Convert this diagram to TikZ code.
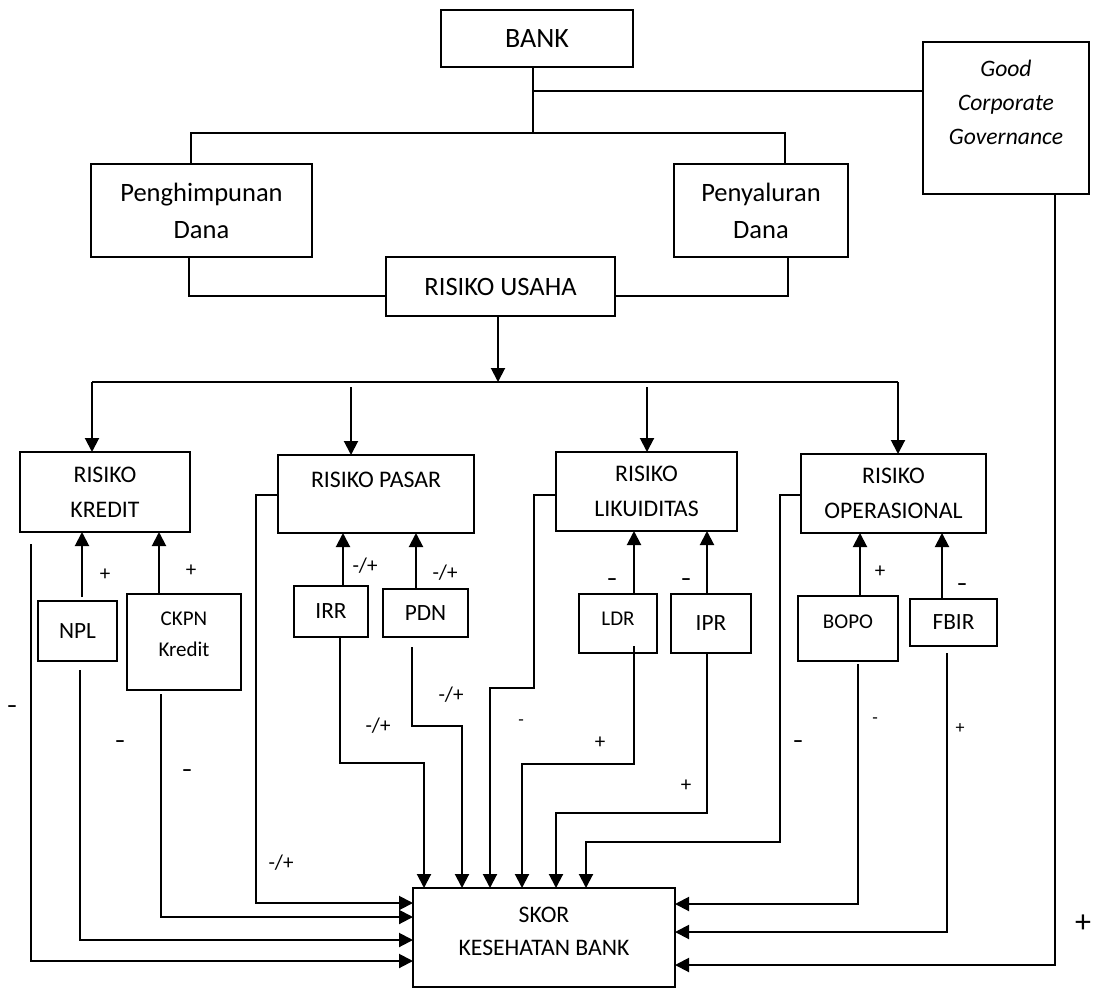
\documentclass[tikz,border=0pt]{standalone}
\usepackage{fontspec}
\setmainfont{Carlito}
\usetikzlibrary{arrows.meta,calc}
\newcommand{\fsBank}{\fontsize{28}{34}\selectfont}
\newcommand{\fsMain}{\fontsize{26.5}{37}\selectfont}
\newcommand{\fsGcg}{\fontsize{23.6}{34}\selectfont}
\newcommand{\fsRisk}{\fontsize{23.8}{35}\selectfont}
\newcommand{\fsSub}{\fontsize{23.3}{28}\selectfont}
\newcommand{\fsSmall}{\fontsize{21}{31}\selectfont}
\newcommand{\fsSkor}{\fontsize{23.7}{33}\selectfont}
\newcommand{\fsLab}{\fontsize{21}{25}\selectfont}
\newcommand{\fsHy}{\fontsize{18}{22}\selectfont}
\newcommand{\fsBig}{\fontsize{32}{38}\selectfont}
\begin{document}
\begin{tikzpicture}[x=1pt,y=-1pt,
  box/.style={draw, line width=1.3pt, inner sep=0pt, outer sep=0pt, align=center},
  tree/.style={line width=1.3pt},
  conn/.style={line width=2pt, -{Triangle[length=14pt,width=14pt]}},
  lab/.style={font=\fsLab, inner sep=0pt},
  dashlab/.style={font=\fsLab\bfseries, inner sep=0pt},
  hylab/.style={font=\fsHy, inner sep=0pt}]
\useasboundingbox (0,0) rectangle (1095,988);
% boxes
\node[box, minimum width=192pt, minimum height=57pt, font=\fsBank] (bank) at (537,38.5) {BANK};
\node[box, minimum width=166pt, minimum height=152pt] (gcg) at (1006,118) {};
\node[font=\fsGcg\itshape, align=center] (gcgtext) at (1006,102) {Good\\Corporate\\Governance};
\node[box, minimum width=221pt, minimum height=93pt, font=\fsMain] (peng) at (201.5,210.5) {Penghimpunan\\Dana};
\node[box, minimum width=174pt, minimum height=93pt, font=\fsMain] (peny) at (761,210.5) {Penyaluran\\Dana};
\node[box, minimum width=229pt, minimum height=59pt, font=\fsMain] (usaha) at (500.5,286.5) {RISIKO USAHA};
\node[box, minimum width=170pt, minimum height=80pt, font=\fsRisk] (kredit) at (105,492) {RISIKO\\KREDIT};
\node[box, minimum width=196pt, minimum height=78pt] (pasar) at (376,494) {};
\node[font=\fsRisk] (pasartext) at (376,480) {RISIKO PASAR};
\node[box, minimum width=181pt, minimum height=79pt, font=\fsRisk] (likuid) at (646.5,491.5) {RISIKO\\LIKUIDITAS};
\node[box, minimum width=185pt, minimum height=79pt, font=\fsRisk] (oper) at (893.5,493.5) {RISIKO\\OPERASIONAL};
\node[box, line width=2.3pt, minimum width=79pt, minimum height=60pt, font=\fsSub] (npl) at (77.5,631) {NPL};
\node[box, minimum width=114pt, minimum height=96pt] (ckpn) at (184,642) {};
\node[font=\fsSmall, align=center] (ckpntext) at (184,634) {CKPN\\Kredit};
\node[box, minimum width=74pt, minimum height=51pt, font=\fsSub] (irr) at (331,611.5) {IRR};
\node[box, minimum width=85pt, minimum height=48pt, font=\fsSub] (pdn) at (425.5,613) {PDN};
\node[box, minimum width=78pt, minimum height=59pt] (ldr) at (618,623.5) {};
\node[font=\fsSmall] (ldrtext) at (618,619) {LDR};
\node[box, minimum width=80pt, minimum height=59pt, font=\fsSub] (ipr) at (711,623.5) {IPR};
\node[box, minimum width=100pt, minimum height=65pt] (bopo) at (848,628.5) {};
\node[font=\fsSmall] (bopotext) at (848,622) {BOPO};
\node[box, minimum width=87pt, minimum height=47pt, font=\fsSub] (fbir) at (953.5,622.5) {FBIR};
\node[box, minimum width=262pt, minimum height=99pt] (skor) at (544,937.5) {};
\node[font=\fsSkor, align=center] (skortext) at (544,931.5) {SKOR\\KESEHATAN BANK};
% tree
\draw[tree] ($(bank.south)+(-4,0)$) -- ($(bank.south)+(-4,66)$);
\draw[tree] ($(bank.south)+(-4,24)$) -- ($(gcg.west)+(0,-27)$);
\draw[tree] ($(peng.north)+(-10.5,0)$) |- ($(peny.north)+(24,-31)$) -- ($(peny.north)+(24,0)$);
\draw[tree] ($(peng.south)+(-12.5,0)$) |- ($(usaha.west)+(0,9.5)$);
\draw[tree] ($(peny.south)+(27,0)$) |- ($(usaha.east)+(0,9.5)$);
\draw[conn] ($(usaha.south)+(-2.5,0)$) -- ($(usaha.south)+(-2.5,66)$);
\draw[tree] ($(kredit.north)+(-13,-70)$) -- ($(oper.north)+(4.5,-72)$);
\draw[conn] ($(kredit.north)+(-13,-70)$) -- ($(kredit.north)+(-13,0)$);
\draw[conn] ($(pasar.north)+(-25,-68)$) -- ($(pasar.north)+(-25,0)$);
\draw[conn] ($(likuid.north)+(0.5,-65)$) -- ($(likuid.north)+(0.5,0)$);
\draw[conn] ($(oper.north)+(4.5,-72)$) -- ($(oper.north)+(4.5,0)$);
% up arrows
\draw[conn] ($(npl.north)+(4.5,-4)$) -- ($(kredit.south)+(-23,0)$);
\draw[conn] ($(ckpn.north)+(-25,0)$) -- ($(kredit.south)+(54,0)$);
\draw[conn] ($(irr.north)+(12,0)$) -- ($(pasar.south)+(-33,0)$);
\draw[conn] ($(pdn.north)+(-9.5,0)$) -- ($(pasar.south)+(40,0)$);
\draw[conn] ($(ldr.north)+(16,0)$) -- ($(likuid.south)+(-12.5,0)$);
\draw[conn] ($(ipr.north)+(-4,0)$) -- ($(likuid.south)+(60.5,0)$);
\draw[conn] ($(bopo.north)+(12,0)$) -- ($(oper.south)+(-33.5,0)$);
\draw[conn] ($(fbir.north)+(-11.5,0)$) -- ($(oper.south)+(48.5,0)$);
% to skor
\draw[conn] ($(pasar.west)+(0,1)$) -- ++(-22,0) |- ($(skor.west)+(0,-34.5)$);
\draw[conn] ($(ckpn.south)+(-23,4)$) |- ($(skor.west)+(0,-20.5)$);
\draw[conn] ($(npl.south)+(2.5,9)$) |- ($(skor.west)+(0,2.5)$);
\draw[conn] ($(kredit.south)+(-74,12)$) |- ($(skor.west)+(0,23.5)$);
\draw[conn] ($(irr.south)+(9,0)$) |- ($(skor.north)+(-120,-125)$) -- ($(skor.north)+(-120,0)$);
\draw[conn] ($(pdn.south)+(-13.5,10)$) |- ($(skor.north)+(-82,-162)$) -- ($(skor.north)+(-82,0)$);
\draw[conn] ($(likuid.west)+(0,3.5)$) -- ++(-22,0) |- ($(skor.north)+(-54,-200)$) -- ($(skor.north)+(-54,0)$);
\draw[conn] ($(ldr.south)+(16,-7)$) |- ($(skor.north)+(-22,-124)$) -- ($(skor.north)+(-22,0)$);
\draw[conn] ($(ipr.south)+(-4,0)$) |- ($(skor.north)+(12,-75)$) -- ($(skor.north)+(12,0)$);
\draw[conn] ($(oper.west)+(0,1.5)$) -- ++(-21,0) |- ($(skor.north)+(42,-46)$) -- ($(skor.north)+(42,0)$);
\draw[conn] ($(bopo.south)+(10,3)$) |- ($(skor.east)+(0,-33.5)$);
\draw[conn] ($(fbir.south)+(-6.5,7)$) |- ($(skor.east)+(0,-5.5)$);
\draw[conn] ($(gcg.south)+(49,0)$) |- ($(skor.east)+(0,27.5)$);
% labels
\node[lab] (l1) at (105,575) {+};
\node[lab] (l2) at (191,571) {+};
\node[lab] (l3) at (365,566) {-/+};
\node[lab] (l4) at (445,573) {-/+};
\node[dashlab] (l5) at (612,582) {\textendash};
\node[dashlab] (l6) at (686,582) {\textendash};
\node[lab] (l7) at (880,572) {+};
\node[dashlab] (l8) at (962,587) {\textendash};
\node[lab] (l9) at (281,863) {-/+};
\node[dashlab] (l10) at (187,773) {\textendash};
\node[dashlab] (l11) at (120,744) {\textendash};
\node[dashlab] (l12) at (12,709) {\textendash};
\node[lab] (l13) at (378,726) {-/+};
\node[lab] (l14) at (451,695) {-/+};
\node[hylab] (l15) at (521,723) {-};
\node[lab] (l16) at (600,743) {+};
\node[lab] (l17) at (686,786) {+};
\node[dashlab] (l18) at (798,744) {\textendash};
\node[hylab] (l19) at (875,721) {-};
\node[hylab] (l20) at (960,729) {+};
\node[font=\fsBig, inner sep=0pt] (l21) at (1083,924) {+};
\end{tikzpicture}
\end{document}
